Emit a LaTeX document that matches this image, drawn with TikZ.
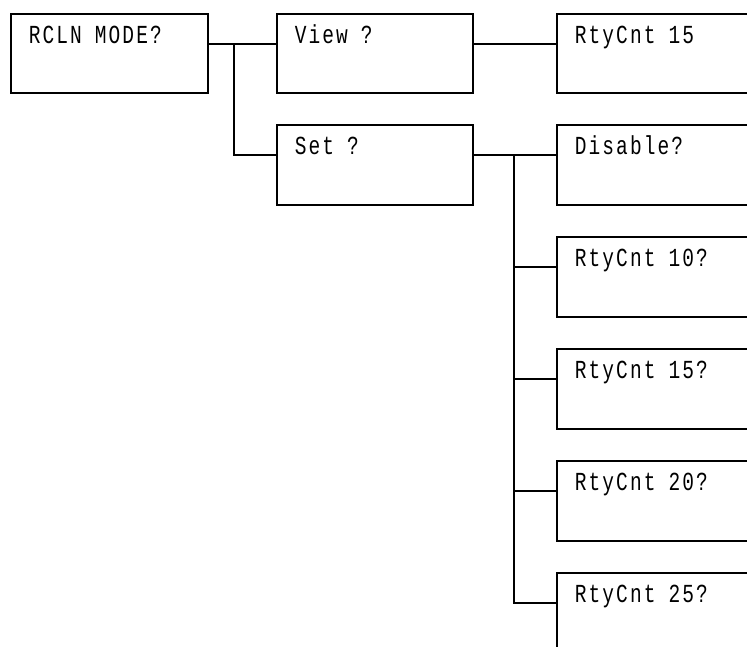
\documentclass[tikz,border=0pt]{standalone}
\usepackage{fontspec}
\newfontfamily\boxfont[FakeStretch=0.75,LetterSpace=8]{Liberation Mono}
\newcommand\bsp{\hspace*{13pt}}
\begin{document}
\begin{tikzpicture}[x=1pt,y=1pt,
  box/.style={draw, line width=1.8pt, anchor=north west, inner sep=0pt,
    inner xsep=18pt, align=left, text height=30pt,
    font=\fontsize{26}{28}\boxfont},
  conn/.style={line width=1.8pt}]
\useasboundingbox (0,0) rectangle (747,646);
\clip (0,0) rectangle (747,646);
% boxes: text width = w - 36, text depth = h - 30
\node[box, text width=161pt, text depth=49pt] (rcln) at (10,633) {RCLN\bsp MODE?};
\node[box, text width=160pt, text depth=49pt] (view) at (276,633) {View\bsp ?};
\node[box, text width=200pt, text depth=49pt] (rty) at (556,633) {RtyCnt\bsp 15};
\node[box, text width=160pt, text depth=50pt] (set) at (276,522) {Set\bsp ?};
\node[box, text width=200pt, text depth=50pt] (dis) at (556,522) {Disable?};
\node[box, text width=200pt, text depth=50pt] (r10) at (556,410) {RtyCnt\bsp 10?};
\node[box, text width=200pt, text depth=50pt] (r15) at (556,298) {RtyCnt\bsp 15?};
\node[box, text width=200pt, text depth=50pt] (r20) at (556,186) {RtyCnt\bsp 20?};
\node[box, text width=200pt, text depth=50pt] (r25) at (556,74) {RtyCnt\bsp 25?};
% junctions
\coordinate (j1) at (234,0);
\coordinate (j2) at (514,0);
\draw[conn] (rcln.base east) -- (view.base west);
\draw[conn] (j1 |- rcln.base east) |- (set.base west);
\draw[conn] (view.base east) -- (rty.base west);
\draw[conn] (set.base east) -- (dis.base west);
\draw[conn] (j2 |- dis.base west) |- (r25.base west);
\draw[conn] (j2 |- r10.base west) -- (r10.base west);
\draw[conn] (j2 |- r15.base west) -- (r15.base west);
\draw[conn] (j2 |- r20.base west) -- (r20.base west);
\end{tikzpicture}
\end{document}
